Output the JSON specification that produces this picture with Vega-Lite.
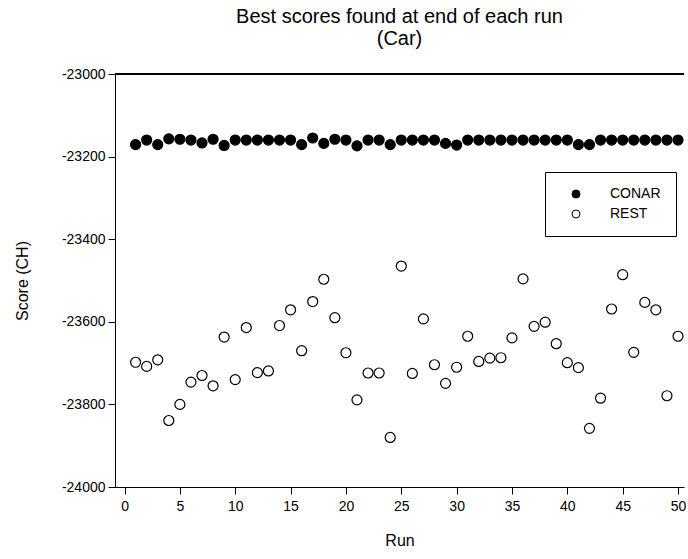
{
  "$schema": "https://vega.github.io/schema/vega-lite/v6.json",
  "width": 569,
  "height": 413,
  "autosize": {"type": "none"},
  "padding": {"left": 115, "top": 74, "right": 4, "bottom": 72},
  "background": "white",
  "config": {
    "font": "Liberation Sans",
    "view": {"stroke": null},
    "axis": {
      "grid": false,
      "domainColor": "black",
      "domainWidth": 1,
      "tickColor": "black",
      "tickWidth": 1,
      "tickSize": 7,
      "labelColor": "black",
      "labelFontSize": 14,
      "labelFont": "Liberation Sans",
      "titleColor": "black",
      "titleFontSize": 16,
      "titleFontWeight": "normal",
      "titleFont": "Liberation Sans"
    }
  },
  "title": {
    "text": ["Best scores found at end of each run", "(Car)"],
    "fontSize": 20,
    "fontWeight": "normal",
    "font": "Liberation Sans",
    "color": "black",
    "anchor": "middle",
    "frame": "group",
    "offset": 18,
    "lineHeight": 22
  },
  "data": {
    "values": [
      {"run": 1, "method": "CONAR", "score": -23171},
      {"run": 2, "method": "CONAR", "score": -23160},
      {"run": 3, "method": "CONAR", "score": -23171},
      {"run": 4, "method": "CONAR", "score": -23157},
      {"run": 5, "method": "CONAR", "score": -23158},
      {"run": 6, "method": "CONAR", "score": -23160},
      {"run": 7, "method": "CONAR", "score": -23167},
      {"run": 8, "method": "CONAR", "score": -23158},
      {"run": 9, "method": "CONAR", "score": -23173},
      {"run": 10, "method": "CONAR", "score": -23160},
      {"run": 11, "method": "CONAR", "score": -23160},
      {"run": 12, "method": "CONAR", "score": -23160},
      {"run": 13, "method": "CONAR", "score": -23160},
      {"run": 14, "method": "CONAR", "score": -23160},
      {"run": 15, "method": "CONAR", "score": -23160},
      {"run": 16, "method": "CONAR", "score": -23171},
      {"run": 17, "method": "CONAR", "score": -23155},
      {"run": 18, "method": "CONAR", "score": -23168},
      {"run": 19, "method": "CONAR", "score": -23158},
      {"run": 20, "method": "CONAR", "score": -23160},
      {"run": 21, "method": "CONAR", "score": -23174},
      {"run": 22, "method": "CONAR", "score": -23160},
      {"run": 23, "method": "CONAR", "score": -23160},
      {"run": 24, "method": "CONAR", "score": -23171},
      {"run": 25, "method": "CONAR", "score": -23160},
      {"run": 26, "method": "CONAR", "score": -23160},
      {"run": 27, "method": "CONAR", "score": -23160},
      {"run": 28, "method": "CONAR", "score": -23160},
      {"run": 29, "method": "CONAR", "score": -23168},
      {"run": 30, "method": "CONAR", "score": -23172},
      {"run": 31, "method": "CONAR", "score": -23160},
      {"run": 32, "method": "CONAR", "score": -23160},
      {"run": 33, "method": "CONAR", "score": -23160},
      {"run": 34, "method": "CONAR", "score": -23160},
      {"run": 35, "method": "CONAR", "score": -23160},
      {"run": 36, "method": "CONAR", "score": -23160},
      {"run": 37, "method": "CONAR", "score": -23160},
      {"run": 38, "method": "CONAR", "score": -23160},
      {"run": 39, "method": "CONAR", "score": -23160},
      {"run": 40, "method": "CONAR", "score": -23160},
      {"run": 41, "method": "CONAR", "score": -23171},
      {"run": 42, "method": "CONAR", "score": -23171},
      {"run": 43, "method": "CONAR", "score": -23160},
      {"run": 44, "method": "CONAR", "score": -23160},
      {"run": 45, "method": "CONAR", "score": -23160},
      {"run": 46, "method": "CONAR", "score": -23160},
      {"run": 47, "method": "CONAR", "score": -23160},
      {"run": 48, "method": "CONAR", "score": -23160},
      {"run": 49, "method": "CONAR", "score": -23160},
      {"run": 50, "method": "CONAR", "score": -23160},
      {"run": 1, "method": "REST", "score": -23698},
      {"run": 2, "method": "REST", "score": -23708},
      {"run": 3, "method": "REST", "score": -23692},
      {"run": 4, "method": "REST", "score": -23839},
      {"run": 5, "method": "REST", "score": -23800},
      {"run": 6, "method": "REST", "score": -23746},
      {"run": 7, "method": "REST", "score": -23730},
      {"run": 8, "method": "REST", "score": -23755},
      {"run": 9, "method": "REST", "score": -23637},
      {"run": 10, "method": "REST", "score": -23740},
      {"run": 11, "method": "REST", "score": -23614},
      {"run": 12, "method": "REST", "score": -23723},
      {"run": 13, "method": "REST", "score": -23719},
      {"run": 14, "method": "REST", "score": -23609},
      {"run": 15, "method": "REST", "score": -23571},
      {"run": 16, "method": "REST", "score": -23670},
      {"run": 17, "method": "REST", "score": -23551},
      {"run": 18, "method": "REST", "score": -23497},
      {"run": 19, "method": "REST", "score": -23590},
      {"run": 20, "method": "REST", "score": -23675},
      {"run": 21, "method": "REST", "score": -23789},
      {"run": 22, "method": "REST", "score": -23724},
      {"run": 23, "method": "REST", "score": -23724},
      {"run": 24, "method": "REST", "score": -23880},
      {"run": 25, "method": "REST", "score": -23465},
      {"run": 26, "method": "REST", "score": -23725},
      {"run": 27, "method": "REST", "score": -23593},
      {"run": 28, "method": "REST", "score": -23704},
      {"run": 29, "method": "REST", "score": -23749},
      {"run": 30, "method": "REST", "score": -23710},
      {"run": 31, "method": "REST", "score": -23635},
      {"run": 32, "method": "REST", "score": -23696},
      {"run": 33, "method": "REST", "score": -23688},
      {"run": 34, "method": "REST", "score": -23687},
      {"run": 35, "method": "REST", "score": -23639},
      {"run": 36, "method": "REST", "score": -23496},
      {"run": 37, "method": "REST", "score": -23611},
      {"run": 38, "method": "REST", "score": -23601},
      {"run": 39, "method": "REST", "score": -23653},
      {"run": 40, "method": "REST", "score": -23699},
      {"run": 41, "method": "REST", "score": -23711},
      {"run": 42, "method": "REST", "score": -23858},
      {"run": 43, "method": "REST", "score": -23785},
      {"run": 44, "method": "REST", "score": -23569},
      {"run": 45, "method": "REST", "score": -23486},
      {"run": 46, "method": "REST", "score": -23674},
      {"run": 47, "method": "REST", "score": -23553},
      {"run": 48, "method": "REST", "score": -23571},
      {"run": 49, "method": "REST", "score": -23779},
      {"run": 50, "method": "REST", "score": -23635}
    ]
  },
  "layer": [
    {
      "mark": {"type": "rule", "color": "black", "strokeWidth": 1},
      "encoding": {"y": {"datum": -23000}}
    },
    {
      "mark": {"type": "point", "shape": "circle", "filled": true, "size": 100, "stroke": "black", "strokeWidth": 1.2, "opacity": 1},
      "encoding": {
        "x": {
          "field": "run",
          "type": "quantitative",
          "title": "Run",
          "scale": {"domain": [-0.86, 50.54], "nice": false, "zero": false},
          "axis": {"values": [0, 5, 10, 15, 20, 25, 30, 35, 40, 45, 50], "labelPadding": 5, "titlePadding": 19, "labelFlush": false}
        },
        "y": {
          "field": "score",
          "type": "quantitative",
          "title": "Score (CH)",
          "scale": {"domain": [-24000, -23000], "nice": false, "zero": false},
          "axis": {"values": [-24000, -23800, -23600, -23400, -23200, -23000], "labelExpr": "'' + datum.value", "labelPadding": 3, "titlePadding": 31, "labelFlush": false}
        },
        "fill": {
          "field": "method",
          "type": "nominal",
          "scale": {"domain": ["CONAR", "REST"], "range": ["black", "white"]},
          "legend": {
            "orient": "none",
            "legendX": 430,
            "legendY": 98,
            "title": null,
            "strokeColor": "black",
            "fillColor": "white",
            "padding": 15,
            "rowPadding": 6,
            "symbolType": "circle",
            "symbolSize": 64,
            "symbolStrokeColor": "black",
            "symbolStrokeWidth": 1,
            "symbolOffset": 9,
            "labelOffset": 27,
            "labelFontSize": 14,
            "labelColor": "black",
            "labelFont": "Liberation Sans"
          }
        }
      }
    }
  ]
}
